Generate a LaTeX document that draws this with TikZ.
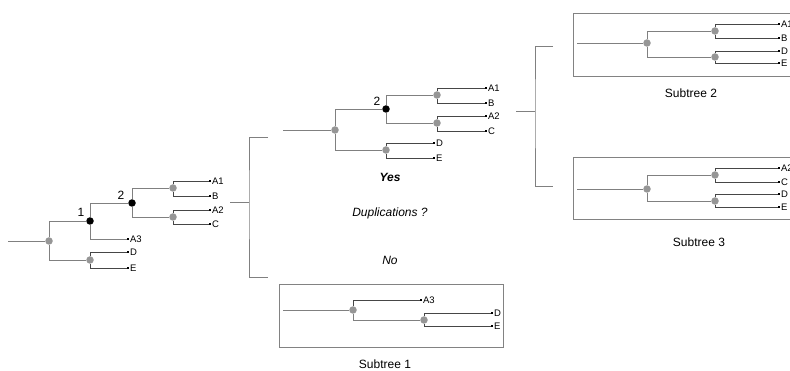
\documentclass[tikz,border=0pt]{standalone}
\usepackage{fontspec}
\setmainfont{Liberation Sans}
\usetikzlibrary{positioning, calc}
\definecolor{branchgray}{RGB}{128, 128, 128}
\definecolor{leafgray}{RGB}{70, 70, 70}
\definecolor{dotgray}{RGB}{150, 150, 150}
\definecolor{boxgray}{RGB}{130, 130, 130}

\begin{document}
\begin{tikzpicture}[
    x=1pt, y=-1pt,
    edge/.style={draw=branchgray, line width=0.9pt},
    leafedge/.style={draw=leafgray, line width=0.8pt},
    gdot/.style={circle, fill=dotgray, inner sep=0pt, minimum size=7.5pt},
    bdot/.style={circle, fill=black, inner sep=0pt, minimum size=7.5pt},
    leaf/.style={rectangle, fill=black, inner sep=0pt, minimum size=2.2pt},
    lbl/.style={font=\fontsize{9.5}{10}\selectfont, inner sep=0.5pt},
    numlbl/.style={font=\fontsize{12}{13}\selectfont, inner sep=0pt},
    captext/.style={font=\fontsize{12}{14}\selectfont},
    subbox/.style={draw=boxgray, line width=0.9pt},
    bracket/.style={draw=branchgray, line width=0.9pt}
]
\clip (0,0) rectangle (790,371);
\useasboundingbox (0,0) rectangle (790,371);

% input tree
\coordinate (t1r) at (8,241);
\node[gdot] (t1g0) at (49,241) {};
\node[bdot] (t1n1) at (90,221) {};
\node[bdot] (t1n2) at (132,203) {};
\node[gdot] (t1g1) at (173,188) {};
\node[gdot] (t1g2) at (173,217) {};
\node[gdot] (t1g3) at (90,260) {};
\node[leaf, label={[lbl]right:A1}] (t1a1) at (210,181) {};
\node[leaf, label={[lbl]right:B}] (t1b) at (210,196) {};
\node[leaf, label={[lbl]right:A2}] (t1a2) at (210,210) {};
\node[leaf, label={[lbl]right:C}] (t1c) at (210,224) {};
\node[leaf, label={[lbl]right:A3}] (t1a3) at (128,239) {};
\node[leaf, label={[lbl]right:D}] (t1d) at (128,252) {};
\node[leaf, label={[lbl]right:E}] (t1e) at (128,268) {};
\node[numlbl] (t1l1) at (81,212) {1};
\node[numlbl] (t1l2) at (121,195) {2};

\draw[edge] (t1r) -- (t1g0);
\draw[edge] (t1g0) |- (t1n1);
\draw[edge] (t1g0) |- (t1g3);
\draw[edge] (t1n1) |- (t1n2);
\draw[edge] (t1n1) |- (t1a3);
\draw[edge] (t1n2) |- (t1g1);
\draw[edge] (t1n2) |- (t1g2);
\draw[leafedge] (t1g1) |- (t1a1);
\draw[leafedge] (t1g1) |- (t1b);
\draw[leafedge] (t1g2) |- (t1a2);
\draw[leafedge] (t1g2) |- (t1c);
\draw[leafedge] (t1g3) |- (t1d);
\draw[leafedge] (t1g3) |- (t1e);

% first split
\coordinate (b1in) at (230,202);
\coordinate (b1mid) at (249,202);
\coordinate (b1top) at (268,137);
\coordinate (b1bot) at (268,277);
\draw[bracket] (b1in) -- (b1mid);
\draw[bracket] (b1top) -| (b1mid) |- (b1bot);

\node[font=\fontsize{12}{14}\selectfont\bfseries\itshape] (yes) at (390,177) {Yes};
\node[font=\fontsize{12}{14}\selectfont\itshape] (dup) at (390,213) {Duplications ?};
\node[font=\fontsize{12}{14}\selectfont\itshape] (no) at (390,260) {No};

% tree after yes
\coordinate (t2r) at (283,130);
\node[gdot] (t2g0) at (335,130) {};
\node[bdot] (t2n2) at (386,109) {};
\node[gdot] (t2g1) at (437,95) {};
\node[gdot] (t2g2) at (437,123) {};
\node[gdot] (t2g3) at (386,150) {};
\node[leaf, label={[lbl]right:A1}] (t2a1) at (486,88) {};
\node[leaf, label={[lbl]right:B}] (t2b) at (486,103) {};
\node[leaf, label={[lbl]right:A2}] (t2a2) at (486,116) {};
\node[leaf, label={[lbl]right:C}] (t2c) at (486,131) {};
\node[leaf, label={[lbl]right:D}] (t2d) at (434,143) {};
\node[leaf, label={[lbl]right:E}] (t2e) at (434,158) {};
\node[numlbl] (t2l2) at (377,101) {2};

\draw[edge] (t2r) -- (t2g0);
\draw[edge] (t2g0) |- (t2n2);
\draw[edge] (t2g0) |- (t2g3);
\draw[edge] (t2n2) |- (t2g1);
\draw[edge] (t2n2) |- (t2g2);
\draw[leafedge] (t2g1) |- (t2a1);
\draw[leafedge] (t2g1) |- (t2b);
\draw[leafedge] (t2g2) |- (t2a2);
\draw[leafedge] (t2g2) |- (t2c);
\draw[leafedge] (t2g3) |- (t2d);
\draw[leafedge] (t2g3) |- (t2e);

% subtree 1
\draw[subbox] (279,284) rectangle (503,347);
\coordinate (s1r) at (283,310);
\node[gdot] (s1g0) at (353,310) {};
\node[gdot] (s1g1) at (424,320) {};
\node[leaf, label={[lbl]right:A3}] (s1a3) at (421,300) {};
\node[leaf, label={[lbl]right:D}] (s1d) at (492,313) {};
\node[leaf, label={[lbl]right:E}] (s1e) at (492,326) {};
\draw[edge] (s1r) -- (s1g0);
\draw[leafedge] (s1g0) |- (s1a3);
\draw[edge] (s1g0) |- (s1g1);
\draw[leafedge] (s1g1) |- (s1d);
\draw[leafedge] (s1g1) |- (s1e);
\node[captext] (s1cap) at (385,364) {Subtree 1};

% second split
\coordinate (b2in) at (516,111);
\coordinate (b2mid) at (535,111);
\coordinate (b2top) at (553,46);
\coordinate (b2bot) at (553,186);
\draw[bracket] (b2in) -- (b2mid);
\draw[bracket] (b2top) -| (b2mid) |- (b2bot);

% subtree 2
\draw[subbox] (573,13) rectangle (800,76);
\coordinate (s2r) at (577,43);
\node[gdot] (s2g0) at (647,43) {};
\node[gdot] (s2g1) at (715,31) {};
\node[gdot] (s2g2) at (715,57) {};
\node[leaf, label={[lbl]right:A1}] (s2a1) at (779,24) {};
\node[leaf, label={[lbl]right:B}] (s2b) at (779,38) {};
\node[leaf, label={[lbl]right:D}] (s2d) at (779,51) {};
\node[leaf, label={[lbl]right:E}] (s2e) at (779,63) {};
\draw[edge] (s2r) -- (s2g0);
\draw[edge] (s2g0) |- (s2g1);
\draw[edge] (s2g0) |- (s2g2);
\draw[leafedge] (s2g1) |- (s2a1);
\draw[leafedge] (s2g1) |- (s2b);
\draw[leafedge] (s2g2) |- (s2d);
\draw[leafedge] (s2g2) |- (s2e);
\node[captext] (s2cap) at (691,93) {Subtree 2};

% subtree 3
\draw[subbox] (573,157) rectangle (800,219);
\coordinate (s3r) at (577,189);
\node[gdot] (s3g0) at (647,189) {};
\node[gdot] (s3g1) at (715,175) {};
\node[gdot] (s3g2) at (715,201) {};
\node[leaf, label={[lbl]right:A2}] (s3a2) at (779,168) {};
\node[leaf, label={[lbl]right:C}] (s3c) at (779,182) {};
\node[leaf, label={[lbl]right:D}] (s3d) at (779,194) {};
\node[leaf, label={[lbl]right:E}] (s3e) at (779,207) {};
\draw[edge] (s3r) -- (s3g0);
\draw[edge] (s3g0) |- (s3g1);
\draw[edge] (s3g0) |- (s3g2);
\draw[leafedge] (s3g1) |- (s3a2);
\draw[leafedge] (s3g1) |- (s3c);
\draw[leafedge] (s3g2) |- (s3d);
\draw[leafedge] (s3g2) |- (s3e);
\node[captext] (s3cap) at (699,242) {Subtree 3};
\end{tikzpicture}
\end{document}
